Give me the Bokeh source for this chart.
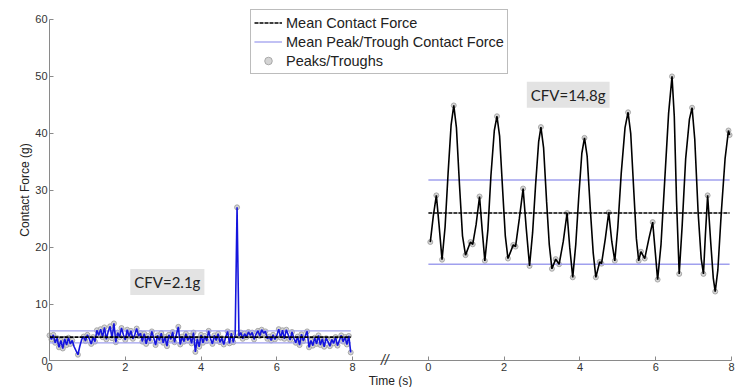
import numpy as np
from bokeh.plotting import figure
from bokeh.models import Range1d, FixedTicker, Label, Legend, LegendItem
from bokeh.embed import file_html
from bokeh.resources import INLINE

# ---------------- data ----------------
# Left trial (CFV = 2.1 g): contact force sampled every 0.05 s
left_dt = 0.05
left_force = [
    4.5, 3.8, 4.6, 3.2, 4.0, 2.4, 3.6, 2.2,
    3.9, 2.8, 4.1, 3.0, 3.6, 2.5, 1.8, 1.1,
    2.6, 3.8, 4.3, 3.5, 4.6, 3.9, 3.0, 4.2,
    3.4, 5.4, 4.5, 5.6, 4.2, 5.9, 3.8, 5.2,
    6.1, 4.0, 6.6, 3.3, 5.0, 4.2, 5.8, 4.6,
    3.7, 5.5, 4.3, 5.3, 3.9, 4.6, 5.7, 4.4,
    4.9, 3.4, 4.8, 3.0, 4.4, 3.5, 5.2, 4.1,
    2.8, 4.5, 3.6, 4.9, 3.2, 4.2, 2.6, 4.6,
    3.8, 5.1, 3.3, 4.7, 6.0, 2.9, 4.3, 3.4,
    4.8, 3.6, 4.4, 3.1, 5.0, 1.6, 3.9, 2.5,
    4.6, 3.2, 4.4, 3.5, 5.3, 3.9, 3.0, 4.5,
    3.6, 4.8, 3.3, 4.0, 2.9, 4.2, 5.2, 3.1,
    4.9, 3.3, 4.6, 27.0, 4.4, 5.0, 3.9, 4.8,
    4.2, 5.1, 4.5, 5.0, 3.8, 4.7, 5.3, 4.4,
    5.5, 4.9, 5.2, 3.9, 4.3, 3.6, 4.6, 3.8,
    4.5, 5.6, 4.1, 5.4, 3.9, 5.5, 4.6, 3.7,
    5.1, 4.0, 3.2, 4.3, 2.8, 4.7, 3.5, 4.4,
    5.2, 2.4, 3.6, 2.7, 4.1, 3.0, 4.5, 2.8,
    3.9, 2.5, 4.0, 3.4, 2.6, 3.8, 3.1, 4.2,
    2.7, 3.6, 4.5, 3.4, 4.2, 2.9, 4.4, 1.5,
]
left_mean = 4.2
left_peak_mean = 5.3
left_trough_mean = 3.2
left_cfv = "CFV=2.1g"

# Right trial (CFV = 14.8 g)
right_time = [
    0.05, 0.13, 0.21, 0.28, 0.36, 0.44, 0.52, 0.60, 0.67, 0.74, 0.82, 0.90, 0.98,
    1.11, 1.17, 1.26, 1.35, 1.42, 1.49, 1.57, 1.65, 1.74, 1.81, 1.88, 1.96, 2.03, 2.10,
    2.24, 2.30, 2.40, 2.50, 2.58, 2.67, 2.75, 2.83, 2.91, 2.97, 3.04, 3.12, 3.19, 3.26,
    3.36, 3.45, 3.56, 3.66, 3.73, 3.81, 3.89, 3.97, 4.05, 4.12, 4.19, 4.27, 4.35, 4.42,
    4.52, 4.57, 4.67, 4.76, 4.84, 4.92, 5.00, 5.09, 5.19, 5.27, 5.34, 5.42, 5.49, 5.55,
    5.61, 5.71, 5.82, 5.92, 5.99, 6.05, 6.14, 6.24, 6.34, 6.43, 6.49, 6.55, 6.62,
    6.70, 6.79, 6.89, 6.96, 7.03, 7.12, 7.20, 7.26, 7.31, 7.37, 7.45, 7.52, 7.57,
    7.64, 7.73, 7.83, 7.92, 7.95,
]
right_force = [
    20.9, 25.5, 29.1, 24.0, 17.8, 23.5, 33.0, 41.5, 44.9, 41.0, 31.0, 22.0, 18.6,
    20.9, 20.5, 24.0, 28.9, 23.0, 17.6, 23.0, 32.5, 40.5, 43.0, 39.5, 30.0, 22.0, 18.0,
    20.4, 20.1, 25.0, 30.3, 23.5, 16.7, 22.5, 31.0, 38.5, 41.1, 37.5, 28.0, 20.5, 16.2,
    17.9, 17.0, 21.0, 26.0, 20.0, 14.7, 20.5, 29.0, 36.5, 39.2, 36.0, 27.0, 19.0, 14.7,
    17.4, 17.1, 21.5, 26.1, 21.0, 17.6, 23.5, 33.0, 41.0, 43.7, 40.0, 30.0, 21.5, 17.6,
    19.2, 18.0, 21.5, 24.4, 19.0, 14.3, 20.5, 32.0, 43.5, 50.0, 43.0, 28.0, 15.3,
    24.0, 35.5, 42.5, 44.5, 39.0, 26.0, 18.0, 15.3, 22.0, 29.1, 21.0, 14.5, 12.2,
    16.0, 26.0, 35.5, 40.5, 39.7,
]
right_mean = 26.0
right_peak_mean = 31.8
right_trough_mean = 17.0
right_cfv = "CFV=14.8g"

x_tick_values = [0, 2, 4, 6, 8]
y_tick_values = [0, 10, 20, 30, 40, 50, 60]
panel_offset = 10          # right panel is drawn 10 units to the right on the shared axis
time_span = (0.0, 7.95)

legend_labels = ["Mean Contact Force", "Mean Peak/Trough Contact Force", "Peaks/Troughs"]

# ---------------- helpers ----------------
def extrema(t, v):
    idx = [0] + [i for i in range(1, len(v) - 1)
                 if (v[i] - v[i - 1]) * (v[i + 1] - v[i]) < 0] + [len(v) - 1]
    return [t[i] for i in idx], [v[i] for i in idx]

left_time = [i * left_dt for i in range(len(left_force))]
rt = [t + panel_offset for t in right_time]

FONT = "Liberation Sans"

p = figure(width=746, height=387, x_range=Range1d(-1.2937, 18.396), y_range=Range1d(-4.656, 63.338),
           output_backend="svg", toolbar_location=None,
           min_border_left=0, min_border_right=0, min_border_top=0, min_border_bottom=0)
p.grid.visible = False
p.outline_line_color = None
p.background_fill_color = "white"
p.border_fill_color = "white"

# axes
all_ticks = x_tick_values + [t + panel_offset for t in x_tick_values]
p.xaxis.ticker = FixedTicker(ticks=all_ticks)
p.xaxis.major_label_overrides = {t + panel_offset: str(t) for t in x_tick_values}
p.xaxis.fixed_location = 0
p.xaxis.bounds = (0, 18)
p.yaxis.ticker = FixedTicker(ticks=y_tick_values)
p.yaxis.bounds = (0, 60)
p.yaxis.fixed_location = 0
for ax in (p.xaxis, p.yaxis):
    ax.axis_line_color = "#8a8a8a"
    ax.major_tick_line_color = "#8a8a8a"
    ax.major_tick_in = 4
    ax.major_tick_out = 0
    ax.minor_tick_line_color = None
    ax.major_label_text_font = FONT
    ax.major_label_text_font_size = "11px"
    ax.major_label_text_color = "#333333"
    ax.major_label_standoff = 2
    ax.axis_label_text_font = FONT
    ax.axis_label_text_font_size = "12px"
    ax.axis_label_text_font_style = "normal"
    ax.axis_label_text_color = "#222222"
p.yaxis.axis_label = "Contact Force (g)"
p.yaxis.axis_label_standoff = 0
p.xaxis.axis_label = "Time (s)"
p.xaxis.axis_label_standoff = 0

# peak/trough markers (under the lines)
lx, ly = extrema(left_time, left_force)
rx, ry = extrema(rt, right_force)
markers = p.scatter(lx + rx, ly + ry, size=5, marker="circle",
                    fill_color="#d4d4d4", line_color="#9a9a9a", line_width=0.8)

# mean peak / trough lines
x0, x1 = time_span
pt_xs = [[x0, x1], [x0, x1], [x0 + panel_offset, x1 + panel_offset], [x0 + panel_offset, x1 + panel_offset]]
pt_ys = [[left_peak_mean] * 2, [left_trough_mean] * 2, [right_peak_mean] * 2, [right_trough_mean] * 2]
pt_lines = p.multi_line(pt_xs, pt_ys, line_color="#a0a0ee", line_width=1.3)

# series
p.line(left_time, left_force, line_color="#1515dd", line_width=1.6)
p.line(rt, right_force, line_color="black", line_width=1.6)

# mean lines
m_xs = [[x0, x1], [x0 + panel_offset, x1 + panel_offset]]
m_ys = [[left_mean] * 2, [right_mean] * 2]
mean_lines = p.multi_line(m_xs, m_ys, line_color="black", line_width=1.6, line_dash="4 1")

# CFV labels
for txt, x, y in ((left_cfv, 3.11, 13.9), (right_cfv, 13.69, 46.8)):
    p.add_layout(Label(x=x, y=y, text=txt, text_align="center", text_baseline="middle",
                       text_font="Lato", text_font_size="15px", text_color="#222222",
                       background_fill_color="#e3e3e3", padding=4))

# axis break mark
p.add_layout(Label(x=8.85, y=0.2, text="//", text_align="center", text_baseline="middle",
                   text_font=FONT, text_font_size="14px", text_font_style="italic",
                   text_color="#333333"))

legend = Legend(items=[LegendItem(label=legend_labels[0], renderers=[mean_lines]),
                       LegendItem(label=legend_labels[1], renderers=[pt_lines]),
                       LegendItem(label=legend_labels[2], renderers=[markers])],
                location=(250, 313), margin=0, padding=3, spacing=0,
                label_height=19, glyph_height=19, glyph_width=28, label_standoff=4,
                label_text_font=FONT, label_text_font_size="14.5px", label_text_color="#222222",
                border_line_color="#7a7a7a", border_line_width=1,
                background_fill_color="white", background_fill_alpha=1)
p.add_layout(legend)

open("out.html", "w").write(file_html(p, INLINE))
